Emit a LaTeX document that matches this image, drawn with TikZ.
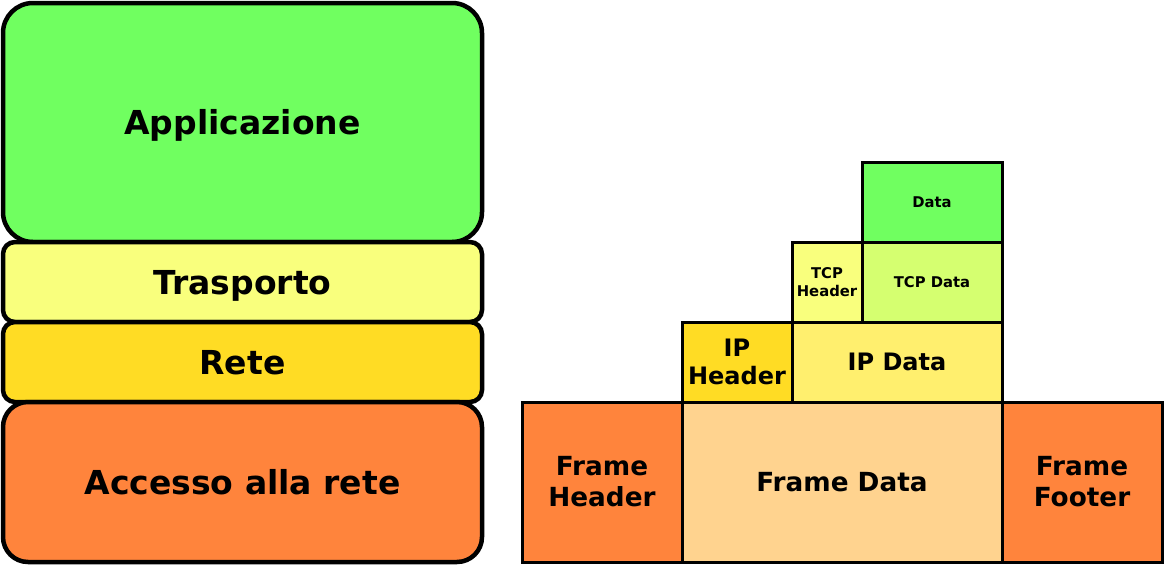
\documentclass[tikz,border=0pt]{standalone}
\usepackage{fontspec}
\setmainfont{DejaVu Sans}
\definecolor{cApp}{HTML}{70FF60}
\definecolor{cTra}{HTML}{F9FF7D}
\definecolor{cRete}{HTML}{FFDC24}
\definecolor{cAcc}{HTML}{FF843C}
\definecolor{cFD}{HTML}{FFD38F}
\definecolor{cIPD}{HTML}{FFEF6E}
\definecolor{cTCPD}{HTML}{D5FF70}
\tikzset{
  layer/.style={draw=black, line width=4.5pt, inner sep=0pt, outer sep=0pt, minimum width=479pt, text height=24pt, text depth=0pt, font=\bfseries\fontsize{33}{38}\selectfont},
  pkt/.style={draw=black, line width=3pt, inner sep=0pt, outer sep=0pt},
  multi/.style={align=center},
  bigtxt/.style={font=\bfseries\fontsize{26.3}{31}\selectfont},
  bigone/.style={bigtxt, text height=19.2pt, text depth=0pt},
  midtxt/.style={font=\bfseries\fontsize{24}{28}\selectfont},
  midone/.style={midtxt, text height=17.5pt, text depth=0pt},
  smalltxt/.style={font=\bfseries\fontsize{14.8}{18}\selectfont},
  smallone/.style={smalltxt, text height=10.8pt, text depth=0pt},
}
\begin{document}
\begin{tikzpicture}[x=1pt,y=-1pt]
\useasboundingbox (0,0) rectangle (1164,565);
% layers
\node[layer, fill=cApp, minimum height=239pt, rounded corners=30pt] (app) at (242.5,122.5) {Applicazione};
\node[layer, fill=cTra, minimum height=80pt, rounded corners=12pt] (tra) at (242.5,282) {Trasporto};
\node[layer, fill=cRete, minimum height=80pt, rounded corners=12pt] (rete) at (242.5,362) {Rete};
\node[layer, fill=cAcc, minimum height=160pt, rounded corners=25pt] (acc) at (242.5,482) {Accesso alla rete};
% packets
\node[pkt, multi, bigtxt, fill=cAcc, minimum width=160pt, minimum height=160pt] (fh) at (602,482) {Frame\\Header};
\node[pkt, bigone, fill=cFD, minimum width=320pt, minimum height=160pt] (fd) at (842,482) {Frame Data};
\node[pkt, multi, bigtxt, fill=cAcc, minimum width=160pt, minimum height=160pt] (ff) at (1082,482) {Frame\\Footer};
\node[pkt, multi, midtxt, fill=cRete, minimum width=110pt, minimum height=80pt] (iph) at (737,362) {IP\\Header};
\node[pkt, midone, fill=cIPD, minimum width=210pt, minimum height=80pt] (ipd) at (897,362) {IP Data};
\node[pkt, multi, smalltxt, fill=cTra, minimum width=70pt, minimum height=80pt] (tcph) at (827,282) {TCP\\Header};
\node[pkt, smallone, fill=cTCPD, minimum width=140pt, minimum height=80pt] (tcpd) at (932,282) {TCP Data};
\node[pkt, smallone, fill=cApp, minimum width=140pt, minimum height=80pt] (data) at (932,202) {Data};
\end{tikzpicture}
\end{document}
